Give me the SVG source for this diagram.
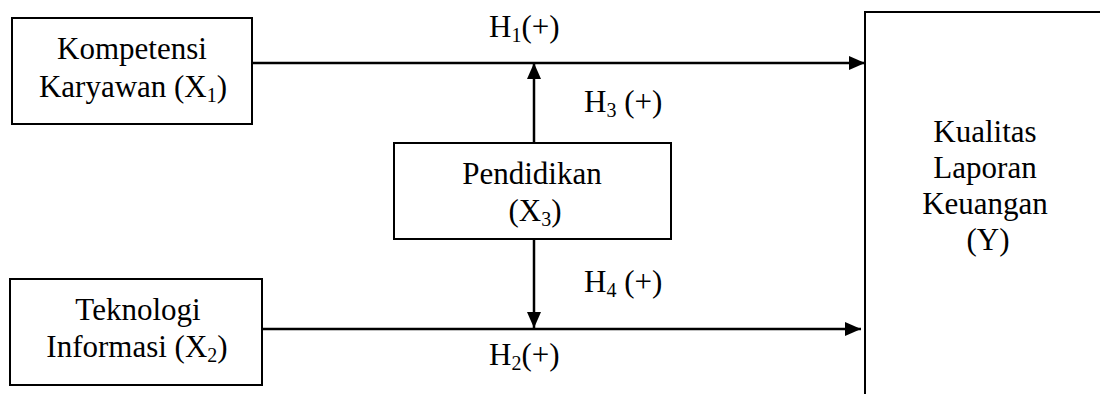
<svg xmlns="http://www.w3.org/2000/svg" width="1100" height="394" viewBox="0 0 1100 394">
<style>
.box{fill:#fff;stroke:#000;stroke-width:2}
.t{font-family:"Liberation Serif","Times New Roman",serif;font-size:31px;fill:#000}
.c{text-anchor:middle}
.sub{font-size:20px}
.ln{stroke:#000;stroke-width:2.5;fill:none}
</style>
<defs>
<marker id="ah" markerUnits="userSpaceOnUse" markerWidth="16" markerHeight="14" refX="16" refY="7" orient="auto">
<path d="M0,0 L16,7 L0,14 z" fill="#000"/>
</marker>
</defs>
<rect width="1100" height="394" fill="#fff"/>
<g id="connectors">
<line class="ln" x1="252" y1="63" x2="865" y2="63" marker-end="url(#ah)"/>
<line class="ln" x1="262" y1="329" x2="861" y2="329" marker-end="url(#ah)"/>
<line class="ln" x1="534" y1="143" x2="534" y2="63" marker-end="url(#ah)"/>
<line class="ln" x1="534" y1="239" x2="534" y2="328" marker-end="url(#ah)"/>
<text class="t" x="489" y="37">H<tspan class="sub" dy="5">1</tspan><tspan dy="-5">(+)</tspan></text>
<text class="t" x="584" y="112">H<tspan class="sub" dy="5">3</tspan><tspan dy="-5"> (+)</tspan></text>
<text class="t" x="584" y="292">H<tspan class="sub" dy="5">4</tspan><tspan dy="-5"> (+)</tspan></text>
<text class="t" x="489" y="365">H<tspan class="sub" dy="5">2</tspan><tspan dy="-5">(+)</tspan></text>
</g>
<g id="x1">
<rect class="box" x="12" y="18" width="240" height="106"/>
<text class="t c" x="132" y="59">Kompetensi</text>
<text class="t c" x="133" y="97">Karyawan (X<tspan class="sub" dy="5">1</tspan><tspan dy="-5">)</tspan></text>
</g>
<g id="x2">
<rect class="box" x="10" y="279" width="252" height="106"/>
<text class="t c" x="138" y="320">Teknologi</text>
<text class="t c" x="137" y="357">Informasi (X<tspan class="sub" dy="5">2</tspan><tspan dy="-5">)</tspan></text>
</g>
<g id="x3">
<rect class="box" x="394" y="143" width="277" height="96"/>
<text class="t c" x="532" y="184">Pendidikan</text>
<text class="t c" x="535" y="221">(X<tspan class="sub" dy="5">3</tspan><tspan dy="-5">)</tspan></text>
</g>
<g id="y">
<rect class="box" x="865" y="12" width="300" height="450"/>
<text class="t c" x="985" y="142">Kualitas</text>
<text class="t c" x="985" y="178">Laporan</text>
<text class="t c" x="985" y="214">Keuangan</text>
<text class="t c" x="988" y="250">(Y)</text>
</g>
</svg>
